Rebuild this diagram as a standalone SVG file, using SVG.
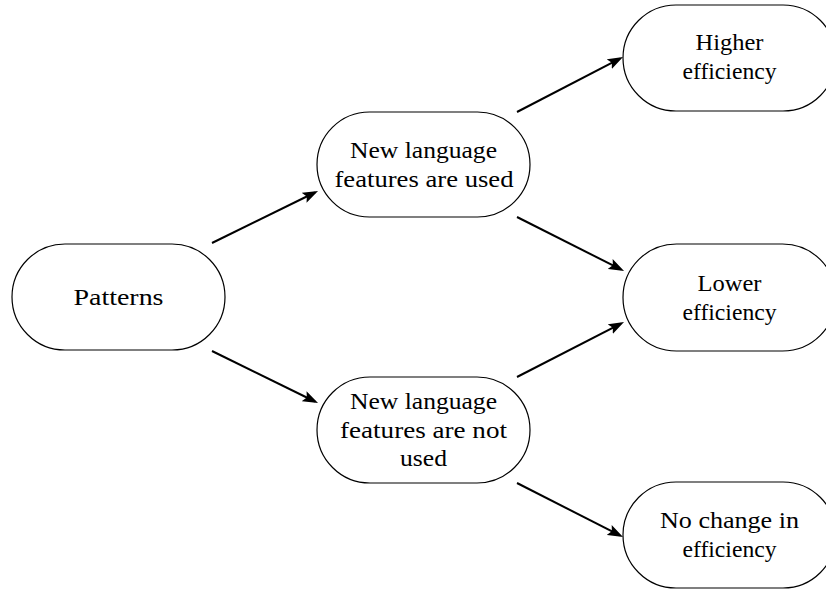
<svg xmlns="http://www.w3.org/2000/svg" width="826" height="590" viewBox="0 0 826 590">
  <defs>
    <marker id="arrow" markerUnits="userSpaceOnUse" markerWidth="16" markerHeight="12" refX="12" refY="6" orient="auto" viewBox="0 0 16 12">
      <path d="M0,0.5 L15.5,6 L0,11.5 L3,6 z" fill="#000"/>
    </marker>
    <style>
      .node rect { fill: #fff; stroke: #000; stroke-width: 1.2; }
      .node text { font-family: "Liberation Serif", "Times New Roman", serif; font-size: 23px; fill: #000; text-anchor: middle; }
      .edges line { stroke: #000; stroke-width: 2; fill: none; marker-end: url(#arrow); }
    </style>
  </defs>
  <rect x="0" y="0" width="826" height="590" fill="#fff"/>

  <g id="n-patterns" class="node">
    <rect x="12" y="244" width="213" height="106" rx="53" ry="53"/>
    <text x="118.5" y="305" textLength="90" lengthAdjust="spacingAndGlyphs">Patterns</text>
  </g>

  <g id="n-used" class="node">
    <rect x="317" y="112" width="213" height="105" rx="52.5" ry="52.5"/>
    <text x="423.5" y="158" textLength="147" lengthAdjust="spacingAndGlyphs">New language</text>
    <text x="424" y="187" textLength="179" lengthAdjust="spacingAndGlyphs">features are used</text>
  </g>

  <g id="n-notused" class="node">
    <rect x="317" y="377" width="213" height="106" rx="53" ry="53"/>
    <text x="423.5" y="408.5" textLength="147" lengthAdjust="spacingAndGlyphs">New language</text>
    <text x="423.5" y="437.5" textLength="167" lengthAdjust="spacingAndGlyphs">features are not</text>
    <text x="423.5" y="466" textLength="47" lengthAdjust="spacingAndGlyphs">used</text>
  </g>

  <g id="n-higher" class="node">
    <rect x="623" y="5" width="213" height="106" rx="53" ry="53"/>
    <text x="729.5" y="50" textLength="68" lengthAdjust="spacingAndGlyphs">Higher</text>
    <text x="729.5" y="79" textLength="94" lengthAdjust="spacingAndGlyphs">efficiency</text>
  </g>

  <g id="n-lower" class="node">
    <rect x="623" y="244" width="213" height="107" rx="53.5" ry="53.5"/>
    <text x="729.5" y="290.5" textLength="64" lengthAdjust="spacingAndGlyphs">Lower</text>
    <text x="729.5" y="319.5" textLength="94" lengthAdjust="spacingAndGlyphs">efficiency</text>
  </g>

  <g id="n-nochange" class="node">
    <rect x="623" y="482" width="213" height="106" rx="53" ry="53"/>
    <text x="729.5" y="528" textLength="139" lengthAdjust="spacingAndGlyphs">No change in</text>
    <text x="729.5" y="557" textLength="94" lengthAdjust="spacingAndGlyphs">efficiency</text>
  </g>

  <g id="edges" class="edges">
    <line x1="212" y1="243" x2="314.9" y2="192.5"/>
    <line x1="212" y1="351" x2="314.9" y2="401.5"/>
    <line x1="517" y1="112" x2="619.9" y2="58.6"/>
    <line x1="517" y1="217" x2="620.9" y2="269.4"/>
    <line x1="517" y1="377" x2="620.9" y2="323.6"/>
    <line x1="517" y1="483" x2="619.9" y2="535.4"/>
  </g>
</svg>
